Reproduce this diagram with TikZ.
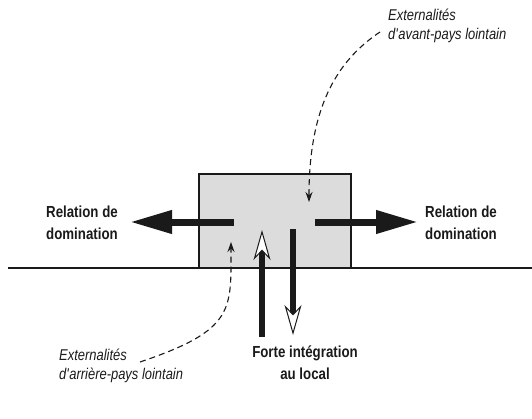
\documentclass[tikz,border=0pt]{standalone}
\usepackage{fontspec}
\setmainfont{Liberation Sans}[FakeStretch=0.83]
\usepackage{tikz}
\usetikzlibrary{arrows.meta,positioning,calc}
\definecolor{ink}{HTML}{1A1A1A}
\definecolor{zonegray}{HTML}{DCDCDD}
\tikzset{
  zonebox/.style={draw=ink,fill=zonegray,line width=2pt,
                  minimum width=152pt,minimum height=94pt,inner sep=0pt},
  boldlbl/.style={font=\fontsize{16}{22}\selectfont\bfseries,text=ink,inner sep=0pt},
  itlbl/.style={font=\fontsize{15.6}{18.5}\selectfont\itshape,text=ink,inner sep=0pt,align=left},
  domarr/.style={-{Triangle[length=42pt,width=22pt]},line width=7pt,color=ink},
  localarr/.style={-{Stealth[open,fill=white,length=30pt,width=17pt,inset=9pt,line width=1pt]},
                   line width=5.5pt,color=ink},
  extarr/.style={-{Stealth[length=10pt,width=7pt]},dash pattern=on 6pt off 4pt,
                 line width=1.1pt,color=ink}
}

\begin{document}
\begin{tikzpicture}[x=1pt,y=-1pt]
  \useasboundingbox (0,0) rectangle (532,418);

  % zone and ground line
  \node[zonebox] (zone) at (275,221) {};
  \coordinate (groundL) at (8,268);
  \coordinate (groundR) at (532,268);
  \draw[ink,line width=2pt] (groundL) -- (groundR);

  % labels
  \node[boldlbl,anchor=north west,align=left] (domL) at (46,206) {Relation de\\domination};
  \node[boldlbl,anchor=north west,align=left] (domR) at (425,206) {Relation de\\domination};
  \node[boldlbl,anchor=north,align=center] (local) at (305,346) {Forte intégration\\au local};
  \node[itlbl,anchor=north west] (avant) at (388,9) {Externalités\\d\textquotesingle avant-pays lointain};
  \node[itlbl,anchor=north west] (arriere) at (59,349) {Externalités\\d\textquotesingle arrière-pays lointain};

  % domination arrows
  \coordinate (domLs) at (234,222);
  \coordinate (domLe) at (130,222);
  \coordinate (domRs) at (315,222);
  \coordinate (domRe) at (418,222);
  \draw[domarr] (domLs) -- (domLe);
  \draw[domarr] (domRs) -- (domRe);

  % local integration, up and down
  \coordinate (upS) at (262,337);
  \coordinate (upE) at (262,230);
  \coordinate (downS) at (293,229);
  \coordinate (downE) at (293,335);
  \draw[localarr] (upS) -- (upE);
  \draw[localarr] (downS) -- (downE);

  % externalities
  \coordinate (avantS) at (380,32);
  \coordinate (avantE) at (309,202);
  \draw[extarr] (avantS) .. controls (335,62) and (309,110) .. (avantE);
  \coordinate (arriereS) at (140,362);
  \coordinate (arriereE) at (231,242);
  \draw[extarr] (arriereS) .. controls (235,330) and (231,310) .. (arriereE);
\end{tikzpicture}
\end{document}
